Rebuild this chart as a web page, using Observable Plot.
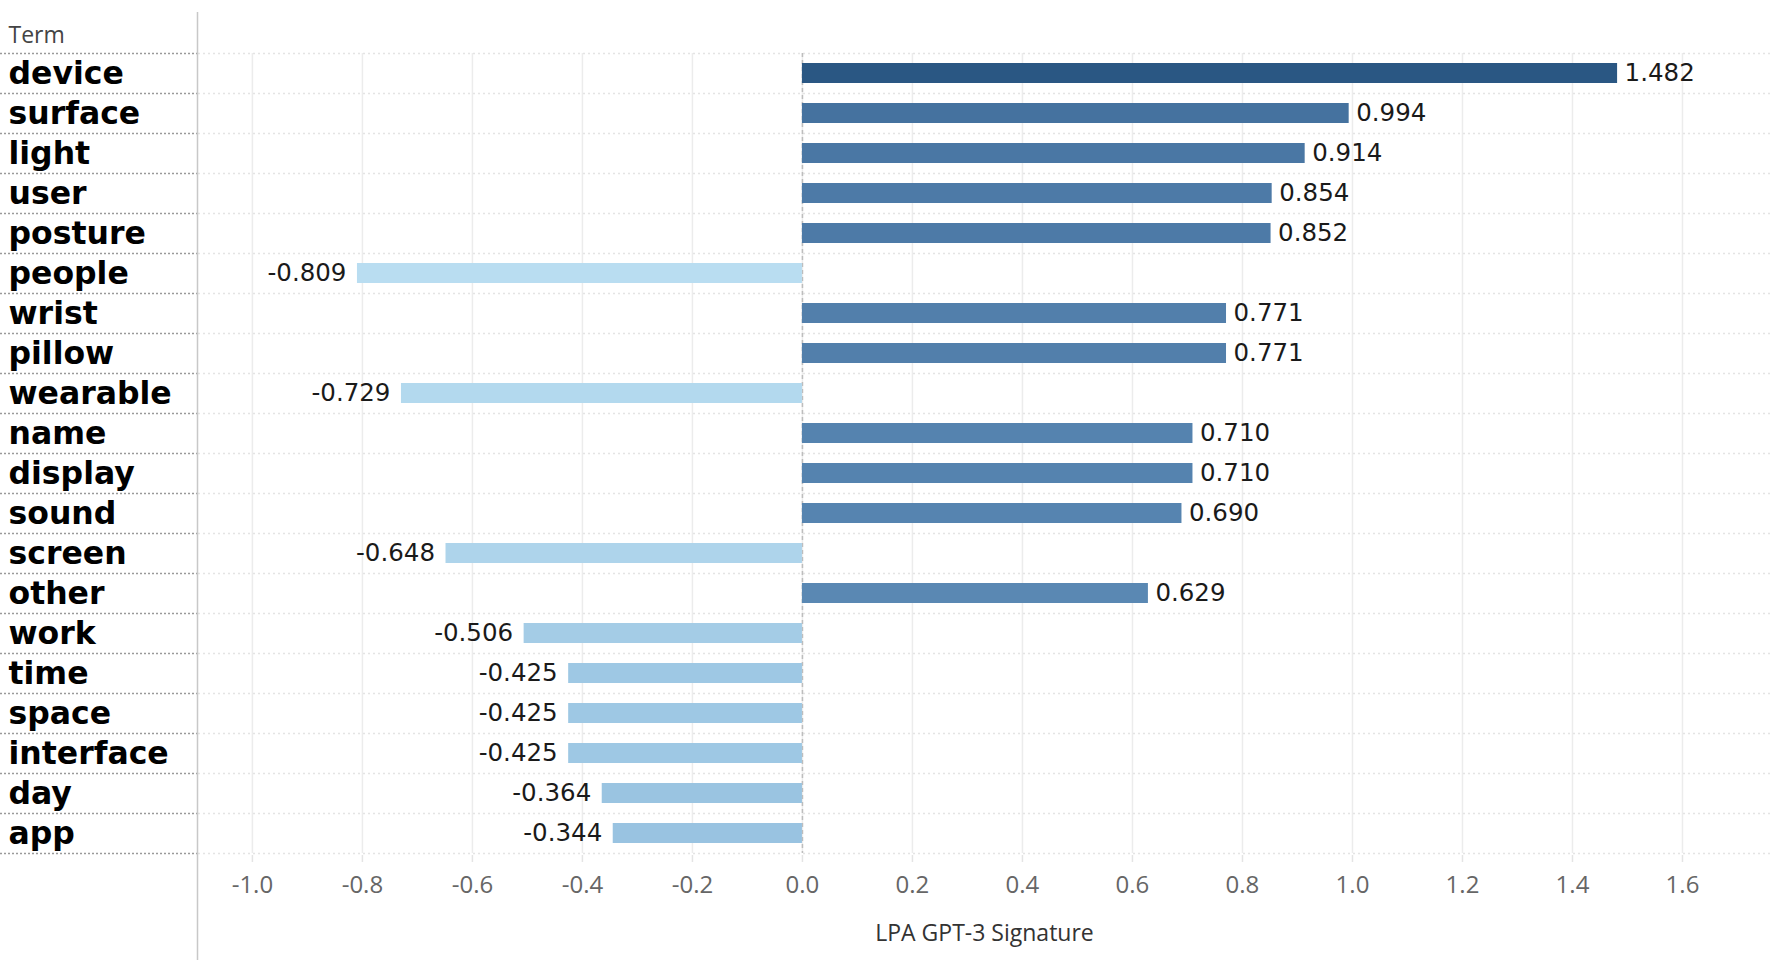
<!DOCTYPE html>
<html><head><meta charset="utf-8">
<script src="https://cdn.jsdelivr.net/npm/d3@7"></script>
<script src="https://cdn.jsdelivr.net/npm/@observablehq/plot@0.6"></script>
<style>html,body{margin:0;padding:0;background:#fff;} svg{display:block}</style>
</head><body><div id="chart"></div>
<script>
const terms = ["device","surface","light","user","posture","people","wrist","pillow","wearable","name","display","sound","screen","other","work","time","space","interface","day","app"];
const values = [1.482,0.994,0.914,0.854,0.852,-0.809,0.771,0.771,-0.729,0.710,0.710,0.690,-0.648,0.629,-0.506,-0.425,-0.425,-0.425,-0.364,-0.344];
const xTicks = [-1.0,-0.8,-0.6,-0.4,-0.2,0.0,0.2,0.4,0.6,0.8,1.0,1.2,1.4,1.6];
const xDomain = [-1.098, 1.76];
const headerLabel = "Term";
const axisTitle = "LPA GPT-3 Signature";
const colorStops = ["#b9ddf1","#91bddd","#6a99c3","#4a77a4","#2a5783"];

const data = terms.map((t, i) => ({term: t, value: values[i]}));
const W = 1770, H = 966, mL = 198, mT = 53, mB = 113;
const sepStyle = {stroke: "#e4e4e4", strokeDasharray: "2,3", strokeWidth: 1.5};
const sepLabelStyle = {stroke: "#9a9a9a", strokeDasharray: "2,2", strokeWidth: 1.5, insetLeft: -mL, insetRight: W - mL};
const last = [terms[terms.length - 1]];

const chart = Plot.plot({
  width: W, height: H,
  marginLeft: mL, marginRight: 0, marginTop: mT, marginBottom: mB,
  style: {background: "#fff", overflow: "visible"},
  x: {domain: xDomain, axis: null},
  y: {domain: terms, paddingInner: 0.5, paddingOuter: 0.25, axis: null},
  color: {type: "linear", domain: [d3.min(values), d3.max(values)], interpolate: d3.piecewise(d3.interpolateRgb, colorStops)},
  marks: [
    Plot.gridX(xTicks, {stroke: "#ececec", strokeOpacity: 1, strokeWidth: 1.5}),
    Plot.ruleX(xTicks, {stroke: "#e4e4e4", strokeWidth: 1.5, insetTop: 802, insetBottom: -9}),
    Plot.ruleY(terms, {y: d => d, dy: -20, ...sepStyle}),
    Plot.ruleY(last, {y: d => d, dy: 20, ...sepStyle}),
    Plot.ruleY(terms, {y: d => d, dy: -20, ...sepLabelStyle}),
    Plot.ruleY(last, {y: d => d, dy: 20, ...sepLabelStyle}),
    Plot.ruleX([0], {stroke: "#bdbdbd", strokeDasharray: "4,3", strokeWidth: 1.5}),
    Plot.barX(data, {x: "value", y: "term", fill: "value"}),
    Plot.text(data.filter(d => d.value >= 0), {x: "value", y: "term", text: d => d.value.toFixed(3), textAnchor: "start", dx: 7, fontSize: 24.5, fontFamily: "DejaVu Sans", fill: "#1a1a1a"}),
    Plot.text(data.filter(d => d.value < 0), {x: "value", y: "term", text: d => d.value.toFixed(3), textAnchor: "end", dx: -11, fontSize: 24.5, fontFamily: "DejaVu Sans", fill: "#1a1a1a"}),
    Plot.text(data, {y: "term", text: "term", frameAnchor: "left", dx: -190, textAnchor: "start", fontSize: 31.5, fontWeight: "bold", fontFamily: "DejaVu Sans", fill: "#000"}),
    Plot.ruleX([xDomain[0]], {stroke: "#c8c8c8", strokeWidth: 1.5, dx: -1, insetTop: -41, insetBottom: -107}),
    Plot.axisX({ticks: xTicks, tickFormat: d => d.toFixed(1), tickSize: 0, tickPadding: 22, fontSize: 24, fontFamily: "Open Sans", fill: "#666", label: null}),
    Plot.text([axisTitle], {text: d => d, frameAnchor: "bottom", lineAnchor: "middle", dy: 80, fontSize: 23, fontFamily: "Open Sans", fill: "#333"}),
    Plot.text([headerLabel], {text: d => d, frameAnchor: "top-left", lineAnchor: "middle", dx: -190, dy: -18, textAnchor: "start", fontSize: 23, fontFamily: "Open Sans", fill: "#444"})
  ]
});
document.getElementById("chart").appendChild(chart);
</script>
</body></html>
